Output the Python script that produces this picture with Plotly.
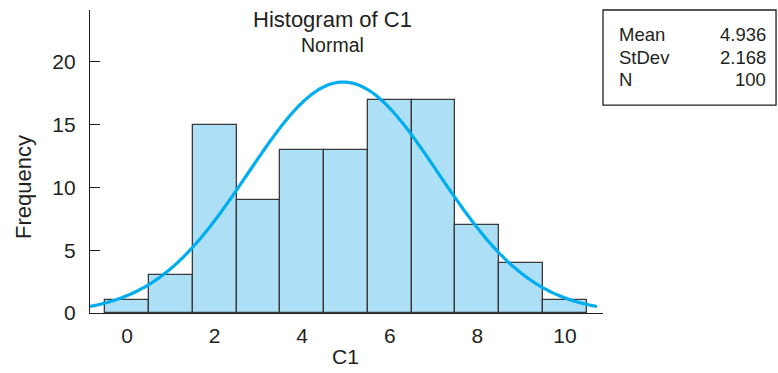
import numpy as np
import plotly.graph_objects as go

# Histogram bins (bin centres, width 1) and counts
bin_centers = [0, 1, 2, 3, 4, 5, 6, 7, 8, 9, 10]
counts = [1, 3, 15, 9, 13, 13, 17, 17, 7, 4, 1]

# Summary statistics shown in the box
stat_names = ["Mean", "StDev", "N"]
stat_values = ["4.936", "2.168", "100"]
mean_val = 4.936
sd_val = 2.168
n_val = 100
bin_width = 1.0

x_ticks = [0, 2, 4, 6, 8, 10]
y_ticks = [0, 5, 10, 15, 20]

FONT = "Liberation Sans, Arial, Helvetica, sans-serif"
INK = "#231f20"
BAR_FILL = "#addff7"
CURVE = "#00aeef"

# Fitted normal density scaled to counts
xs = np.linspace(-0.845, 10.73, 300)
ys = n_val * bin_width * np.exp(-0.5 * ((xs - mean_val) / sd_val) ** 2) / (sd_val * np.sqrt(2 * np.pi))

fig = go.Figure()
fig.add_trace(go.Bar(
    x=bin_centers, y=counts, width=bin_width,
    marker=dict(color=BAR_FILL, line=dict(color="#3a3a3a", width=1.3)),
    hoverinfo="skip",
))
fig.add_trace(go.Scatter(
    x=xs, y=ys, mode="lines",
    line=dict(color=CURVE, width=3.2, shape="spline"),
    hoverinfo="skip",
))

fig.update_layout(
    width=778, height=373,
    margin=dict(l=90, r=175, t=10, b=60),
    paper_bgcolor="white", plot_bgcolor="white",
    showlegend=False,
    font=dict(family=FONT, color=INK, size=21),
    bargap=0,
)
fig.update_xaxes(
    range=[-0.845, 10.868], tickvals=x_ticks, ticks="",
    showline=True, linecolor=INK, linewidth=1.3,
    showgrid=False, zeroline=False,
    tickfont=dict(size=21, color=INK), ticklabelstandoff=4,
)
fig.update_yaxes(
    range=[0, 24.14], tickvals=y_ticks, ticks="inside", ticklen=10,
    tickcolor=INK, tickwidth=1.3,
    showline=True, linecolor=INK, linewidth=1.3,
    showgrid=False, zeroline=False,
    tickfont=dict(size=21, color=INK), ticklabelstandoff=9,
)

annotations = [
    dict(text="Histogram of C1", x=0.472, y=0.967, font=dict(size=22)),
    dict(text="Normal", x=0.472, y=0.884, font=dict(size=19.5)),
    dict(text="C1", x=0.499, y=-0.143, font=dict(size=21)),
    dict(text="Frequency", x=-0.1287, y=0.416, textangle=-90, font=dict(size=22)),
]
for a in annotations:
    a.update(xref="paper", yref="paper", showarrow=False, xanchor="center", yanchor="middle")

# Stats box contents
row_y = [0.9175, 0.8416, 0.769]
for name, val, yy in zip(stat_names, stat_values, row_y):
    annotations.append(dict(text=name, x=1.027, y=yy, xref="paper", yref="paper",
                            showarrow=False, xanchor="left", yanchor="middle",
                            font=dict(size=18.5)))
    annotations.append(dict(text=val, x=1.3216, y=yy, xref="paper", yref="paper",
                            showarrow=False, xanchor="right", yanchor="middle",
                            font=dict(size=18.5)))
fig.update_layout(annotations=annotations)

fig.add_shape(type="rect", xref="paper", yref="paper",
              x0=1.0, x1=1.3373, y0=0.686, y1=1.0,
              line=dict(color=INK, width=1.3), fillcolor="rgba(0,0,0,0)")

fig.write_html("out.html")
